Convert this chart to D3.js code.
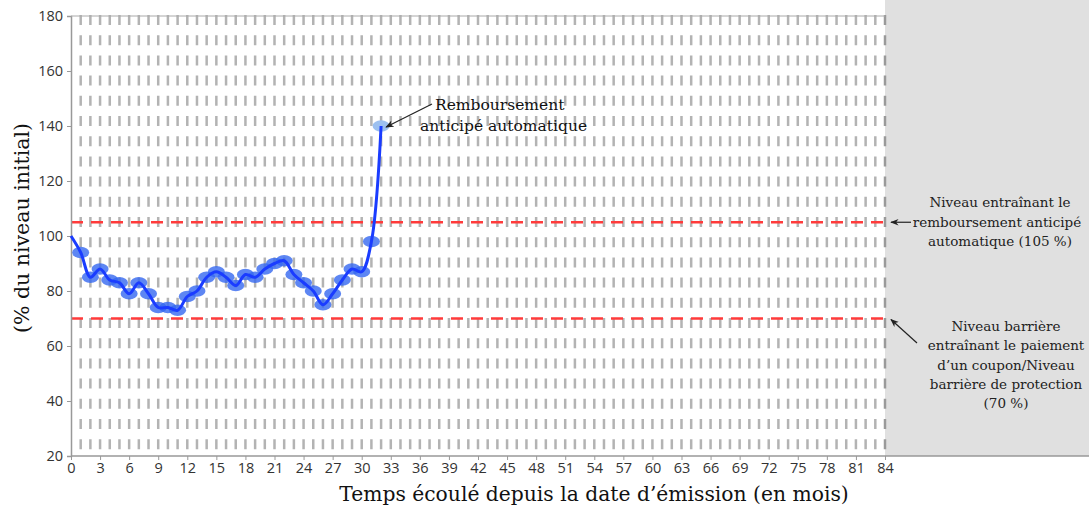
<!DOCTYPE html>
<html><head><meta charset="utf-8">
<script src="https://cdn.jsdelivr.net/npm/d3@7"></script>
<style>body{margin:0;background:#fff}svg{display:block}</style>
</head><body>
<script>
const months = d3.range(0, 33);
const values = [100,94,85,88,84,83,79,83,79,74,74,73,78,80,85,87,85,82,86,85,88,90,91,86,83,80,75,79,84,88,87,98,140];
const xTicks = d3.range(0, 85, 3);
const yTicks = [20,40,60,80,100,120,140,160,180];
const autocallLevel = 105;
const barrierLevel = 70;
const maturity = 84;
const yTitle = "(% du niveau initial)";
const xTitle = "Temps écoulé depuis la date d’émission (en mois)";
const noteEarly = ["Remboursement", "anticipé automatique"];
const noteAuto = ["Niveau entraînant le", "remboursement anticipé", "automatique (105 %)"];
const noteBarrier = ["Niveau barrière", "entraînant le paiement", "d’un coupon/Niveau", "barrière de protection", "(70 %)"];

const W = 1089, H = 508;
const m = {l: 71, r: 204, t: 16, b: 52};
const svg = d3.select("body").append("svg").attr("width", W).attr("height", H);
const x = d3.scaleLinear().domain([0, maturity]).range([m.l, W - m.r]);
const y = d3.scaleLinear().domain([20, 180]).range([H - m.b, m.t]);
const serif = "'DejaVu Serif', serif";
const sans = "'Open Sans', 'Noto Sans', sans-serif";

svg.append("defs").append("marker").attr("id","arr").attr("viewBox","0 0 10 10")
  .attr("refX",9).attr("refY",5).attr("markerWidth",7).attr("markerHeight",7).attr("orient","auto")
  .append("path").attr("d","M0,1 L10,5 L0,9 L3,5 Z").attr("fill","#222");

// grey area after maturity
svg.append("rect").attr("x", x(maturity)).attr("y", 0).attr("width", W - x(maturity)).attr("height", y(20))
  .attr("fill", "#e0e0e0");

// vertical dashed month lines
svg.append("g").selectAll("line").data(d3.range(1, maturity + 1)).join("line")
  .attr("x1", d => x(d)).attr("x2", d => x(d)).attr("y1", y(180) - 1).attr("y2", y(20))
  .attr("stroke", d => d === maturity ? "#9a9a9a" : "#b3b3b3").attr("stroke-width", 2.5)
  .attr("stroke-dasharray", "10,10.2");

// red dashed levels
svg.append("g").selectAll("line").data([autocallLevel, barrierLevel]).join("line")
  .attr("x1", x(0)).attr("x2", x(maturity)).attr("y1", d => y(d)).attr("y2", d => y(d))
  .attr("stroke", "#ff3b3b").attr("stroke-width", 2.5).attr("stroke-dasharray", "12,8");

// axes
const gy = svg.append("g").attr("transform", `translate(${x(0)},0)`)
  .call(d3.axisLeft(y).tickValues(yTicks).tickSize(4).tickPadding(4));
gy.select(".domain").attr("stroke", "#999").attr("stroke-width", 1.5);
gy.selectAll(".tick line").attr("stroke", "#999");
gy.selectAll("text").attr("font-family", sans).attr("font-size", 14.5).attr("fill", "#333");

const gx = svg.append("g").attr("transform", `translate(0,${y(20)})`)
  .call(d3.axisBottom(x).tickValues(xTicks).tickSize(4).tickPadding(3));
gx.select(".domain").remove();
gx.selectAll(".tick line").attr("stroke", "#999");
gx.selectAll("text").attr("font-family", sans).attr("font-size", 14.5).attr("fill", "#333");
svg.append("line").attr("x1", x(0)).attr("x2", W).attr("y1", y(20)).attr("y2", y(20))
  .attr("stroke", "#999").attr("stroke-width", 1.5);
svg.append("line").attr("x1", x(0)).attr("x2", x(maturity)).attr("y1", y(180)).attr("y2", y(180))
  .attr("stroke", "#aaa").attr("stroke-width", 1);

// titles
svg.append("text").attr("x", 594).attr("y", 501).attr("text-anchor", "middle")
  .attr("font-family", serif).attr("font-size", 20.3).attr("fill", "#111").text(xTitle);
svg.append("text").attr("transform", `translate(29,228) rotate(-90)`).attr("text-anchor", "middle")
  .attr("font-family", serif).attr("font-size", 20.5).attr("fill", "#111").text(yTitle);

// data
const pts = months.map((mo, i) => ({mo, v: values[i]}));
svg.append("g").selectAll("ellipse").data(pts.slice(1)).join("ellipse")
  .attr("cx", d => x(d.mo)).attr("cy", d => y(d.v)).attr("rx", 8.5).attr("ry", 5.8)
  .attr("fill", d => d.mo === 32 ? "#9cc0f0" : "#3468f0").attr("fill-opacity", d => d.mo === 32 ? 1 : 0.8);
svg.append("path").datum(pts)
  .attr("d", d3.line().x(d => x(d.mo)).y(d => y(d.v)).curve(d3.curveCatmullRom.alpha(0.5)))
  .attr("fill", "none").attr("stroke", "#1a3cff").attr("stroke-width", 3);

// annotations
const tEarly = svg.append("text").attr("font-family", serif).attr("font-size", 15.5).attr("fill", "#111");
tEarly.append("tspan").attr("x", 435).attr("y", 110).text(noteEarly[0]);
tEarly.append("tspan").attr("x", 420).attr("y", 131).text(noteEarly[1]);
svg.append("line").attr("x1", 432).attr("y1", 104).attr("x2", x(32) + 5).attr("y2", y(140) + 1)
  .attr("stroke", "#222").attr("stroke-width", 1.2).attr("marker-end", "url(#arr)");

const tAuto = svg.append("text").attr("font-family", serif).attr("font-size", 13.5).attr("fill", "#222")
  .attr("text-anchor", "middle");
noteAuto.forEach((s, i) => tAuto.append("tspan").attr("x", i === 1 ? 997 : 1000).attr("y", 207 + i * 19.5).text(s));
svg.append("line").attr("x1", 911).attr("y1", y(autocallLevel)).attr("x2", x(maturity) + 6).attr("y2", y(autocallLevel))
  .attr("stroke", "#222").attr("stroke-width", 1.2).attr("marker-end", "url(#arr)");

const tBar = svg.append("text").attr("font-family", serif).attr("font-size", 13.5).attr("fill", "#222")
  .attr("text-anchor", "middle");
noteBarrier.forEach((s, i) => tBar.append("tspan").attr("x", 1006).attr("y", 331 + i * 19.3).text(s));
svg.append("line").attr("x1", 917).attr("y1", 343).attr("x2", x(maturity) + 6).attr("y2", y(barrierLevel) + 1)
  .attr("stroke", "#222").attr("stroke-width", 1.2).attr("marker-end", "url(#arr)");
</script>
</body></html>
